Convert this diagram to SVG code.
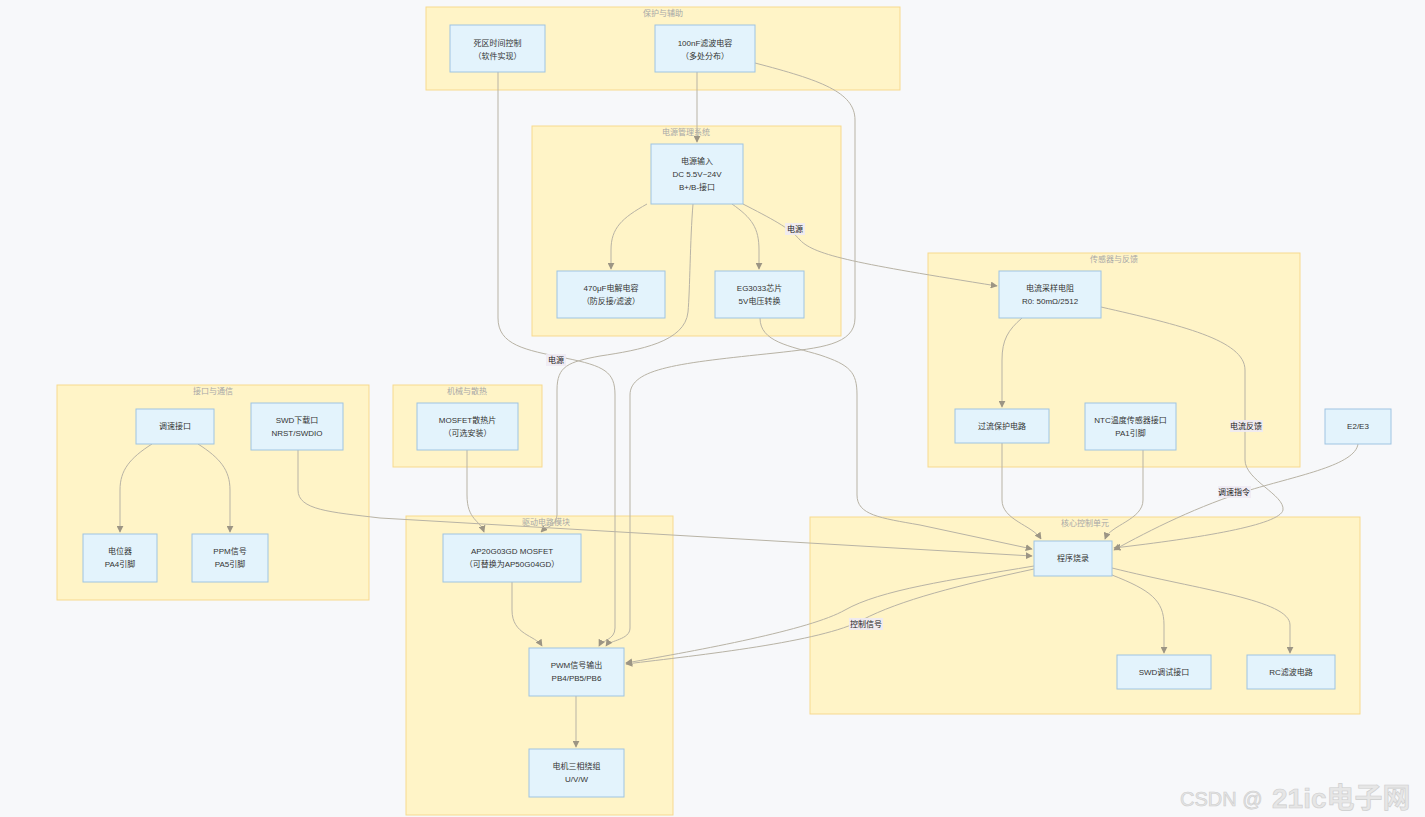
<svg xmlns="http://www.w3.org/2000/svg" width="1425" height="817" viewBox="0 0 1425 817">
<defs>
<marker id="arr" viewBox="0 0 10 10" refX="9" refY="5" markerWidth="7" markerHeight="7" markerUnits="userSpaceOnUse" orient="auto">
<path d="M0,0 L10,5 L0,10 z" fill="#9c9584"/>
</marker>
<style>
.cl{fill:#fff4c7;stroke:#f7d98e;stroke-width:1}
.ct{font-family:"Liberation Sans","Noto Sans CJK SC",sans-serif;font-size:8px;fill:#a8a8a8;text-anchor:middle}
.nd{fill:#e3f3fc;stroke:#9fc4e2;stroke-width:1}
.nt{font-family:"Liberation Sans","Noto Sans CJK SC",sans-serif;font-size:8px;fill:#333;text-anchor:middle;dominant-baseline:central}
.ed{fill:none;stroke:#b8b3a5;stroke-width:1;marker-end:url(#arr)}
.lb{fill:#eeeaf3;opacity:0.9}
.lt{font-family:"Liberation Sans","Noto Sans CJK SC",sans-serif;font-size:8px;fill:#222;text-anchor:middle;dominant-baseline:central}
.wm{font-family:"Liberation Sans","Noto Sans CJK SC",sans-serif;fill:#e6e6e6;stroke:#cdcdcd;stroke-width:0.6}
</style>
</defs>
<rect width="1425" height="817" fill="#f7f8fa"/>

<g id="clusters">
<g id="c_protect"><rect class="cl" x="426" y="7" width="474" height="83"/><text class="ct" x="663" y="16">保护与辅助</text></g>
<g id="c_power"><rect class="cl" x="532" y="126" width="309" height="210"/><text class="ct" x="686" y="135">电源管理系统</text></g>
<g id="c_sensor"><rect class="cl" x="928" y="253" width="372" height="214"/><text class="ct" x="1114" y="262">传感器与反馈</text></g>
<g id="c_iface"><rect class="cl" x="57" y="385" width="312" height="215"/><text class="ct" x="213" y="394">接口与通信</text></g>
<g id="c_mech"><rect class="cl" x="393" y="385" width="149" height="82"/><text class="ct" x="467" y="394">机械与散热</text></g>
<g id="c_drive"><rect class="cl" x="406" y="516" width="267" height="299"/><text class="ct" x="546" y="525">驱动电路模块</text></g>
<g id="c_core"><rect class="cl" x="810" y="517" width="550" height="197"/><text class="ct" x="1085" y="526">核心控制单元</text></g>
</g>

<g id="connectors">
<path class="ed" d="M498,72 L498,318 C498,345 525,350 565,358 C605,366 615,372 615,395 L615,628 C615,640 602,640 599,646"/>
<path class="ed" d="M697,72 L697,142"/>
<path class="ed" d="M755,63 C820,80 855,92 855,120 L855,318 C855,345 820,348 775,353 C680,363 630,368 630,395 L630,628 C630,640 610,640 606,646"/>
<path class="ed" d="M647,204 C622,218 611,228 611,250 L611,269"/>
<path class="ed" d="M732,204 C752,218 759,228 759,250 L759,269"/>
<path class="ed" d="M743,204 C770,218 790,228 800,240 C815,256 860,264 997,286"/>
<path class="ed" d="M693,204 C690,240 690,290 688,312 C685,342 640,350 600,356 C568,362 557,366 557,390 L557,515 C557,525 545,528 541,532"/>
<path class="ed" d="M760,318 C760,342 790,346 820,355 C850,365 857,372 857,395 L857,495 C857,515 880,518 920,525 L1032,549"/>
<path class="ed" d="M298,450 L298,490 C298,510 330,512 380,518 L1032,556"/>
<path class="ed" d="M152,444 C130,458 120,470 120,490 L120,532"/>
<path class="ed" d="M198,444 C220,458 230,470 230,490 L230,532"/>
<path class="ed" d="M467,450 L467,495 C467,520 480,520 484,532"/>
<path class="ed" d="M512,582 L512,610 C512,635 535,635 542,646"/>
<path class="ed" d="M576,696 L576,747"/>
<path class="ed" d="M1022,318 C1008,330 1002,340 1002,360 L1002,407"/>
<path class="ed" d="M1101,307 C1180,325 1245,340 1245,370 L1245,460 C1245,480 1285,495 1283,510 C1280,525 1200,538 1114,548"/>
<path class="ed" d="M1358,444 C1355,465 1300,475 1250,490 C1200,505 1150,530 1114,550"/>
<path class="ed" d="M1002,443 L1002,500 C1002,520 1032,525 1041,539"/>
<path class="ed" d="M1143,450 L1143,500 C1143,520 1110,525 1105,539"/>
<path class="ed" d="M1112,575 C1150,590 1164,600 1164,625 L1164,653"/>
<path class="ed" d="M1112,568 C1200,590 1290,600 1290,625 L1290,653"/>
<path class="ed" d="M1034,566 C950,580 880,590 845,610 C810,630 700,650 626,663"/>
<path class="ed" d="M1034,569 C960,585 900,600 862,620 C822,642 700,655 626,664"/>
<g id="edge_labels">
<rect class="lb" x="785" y="223" width="20" height="12"/><text class="lt" x="795" y="229">电源</text>
<rect class="lb" x="546" y="354" width="20" height="12"/><text class="lt" x="556" y="360">电源</text>
<rect class="lb" x="1230" y="420" width="33" height="12"/><text class="lt" x="1246" y="426">电流反馈</text>
<rect class="lb" x="1218" y="486" width="33" height="12"/><text class="lt" x="1234" y="492">调速指令</text>
<rect class="lb" x="849" y="618" width="34" height="12"/><text class="lt" x="866" y="624">控制信号</text>
</g>
</g>

<g id="nodes">
<g id="n_dead"><rect class="nd" x="450" y="25" width="95" height="47"/><text class="nt" x="497.5" y="43">死区时间控制</text><text class="nt" x="497.5" y="56">（软件实现）</text></g>
<g id="n_cap100"><rect class="nd" x="655" y="25" width="100" height="47"/><text class="nt" x="705" y="43">100nF滤波电容</text><text class="nt" x="705" y="56">（多处分布）</text></g>
<g id="n_pin"><rect class="nd" x="651" y="144" width="92" height="60"/><text class="nt" x="697" y="161">电源输入</text><text class="nt" x="697" y="174.5">DC 5.5V~24V</text><text class="nt" x="697" y="187.5">B+/B-接口</text></g>
<g id="n_c470"><rect class="nd" x="557" y="271" width="108" height="47"/><text class="nt" x="611" y="288.5">470μF电解电容</text><text class="nt" x="611" y="301.5">（防反接/滤波）</text></g>
<g id="n_eg"><rect class="nd" x="715" y="271" width="89" height="47"/><text class="nt" x="759.5" y="288.5">EG3033芯片</text><text class="nt" x="759.5" y="301.5">5V电压转换</text></g>
<g id="n_rs"><rect class="nd" x="999" y="271" width="102" height="47"/><text class="nt" x="1050" y="288.5">电流采样电阻</text><text class="nt" x="1050" y="301.5">R0: 50mΩ/2512</text></g>
<g id="n_oc"><rect class="nd" x="955" y="409" width="94" height="34"/><text class="nt" x="1002" y="426">过流保护电路</text></g>
<g id="n_ntc"><rect class="nd" x="1085" y="403" width="91" height="47"/><text class="nt" x="1130.5" y="420.5">NTC温度传感器接口</text><text class="nt" x="1130.5" y="433.5">PA1引脚</text></g>
<g id="n_e2"><rect class="nd" x="1325" y="409" width="66" height="35"/><text class="nt" x="1358" y="426.5">E2/E3</text></g>
<g id="n_spd"><rect class="nd" x="136" y="409" width="78" height="35"/><text class="nt" x="175" y="426.5">调速接口</text></g>
<g id="n_swd"><rect class="nd" x="251" y="403" width="92" height="47"/><text class="nt" x="297" y="420.5">SWD下载口</text><text class="nt" x="297" y="433.5">NRST/SWDIO</text></g>
<g id="n_pot"><rect class="nd" x="83" y="534" width="74" height="48"/><text class="nt" x="120" y="551.5">电位器</text><text class="nt" x="120" y="564.5">PA4引脚</text></g>
<g id="n_ppm"><rect class="nd" x="192" y="534" width="76" height="48"/><text class="nt" x="230" y="551.5">PPM信号</text><text class="nt" x="230" y="564.5">PA5引脚</text></g>
<g id="n_heat"><rect class="nd" x="417" y="403" width="101" height="47"/><text class="nt" x="467.5" y="420.5">MOSFET散热片</text><text class="nt" x="467.5" y="433.5">（可选安装）</text></g>
<g id="n_mos"><rect class="nd" x="443" y="534" width="138" height="48"/><text class="nt" x="512" y="551.5">AP20G03GD MOSFET</text><text class="nt" x="512" y="564.5">（可替换为AP50G04GD）</text></g>
<g id="n_pwm"><rect class="nd" x="529" y="648" width="95" height="48"/><text class="nt" x="576.5" y="665.5">PWM信号输出</text><text class="nt" x="576.5" y="678.5">PB4/PB5/PB6</text></g>
<g id="n_motor"><rect class="nd" x="529" y="749" width="95" height="48"/><text class="nt" x="576.5" y="766.5">电机三相绕组</text><text class="nt" x="576.5" y="779.5">U/V/W</text></g>
<g id="n_prog"><rect class="nd" x="1034" y="541" width="78" height="35"/><text class="nt" x="1073" y="558.5">程序烧录</text></g>
<g id="n_swddbg"><rect class="nd" x="1117" y="655" width="94" height="34"/><text class="nt" x="1164" y="672">SWD调试接口</text></g>
<g id="n_rc"><rect class="nd" x="1247" y="655" width="88" height="34"/><text class="nt" x="1291" y="672">RC滤波电路</text></g>
</g>

<g id="watermark">
<text class="wm" x="1180" y="806" font-size="20">CSDN @</text>
<text class="wm" x="1272" y="808" font-size="28" font-weight="bold">21ic电子网</text>
</g>
</svg>
